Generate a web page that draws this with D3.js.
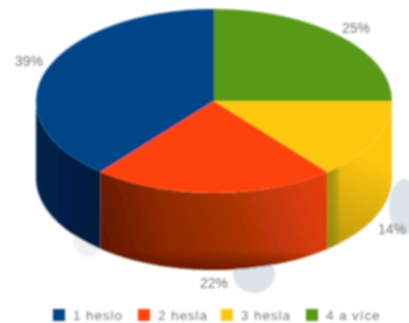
<!DOCTYPE html>
<html><head><meta charset="utf-8">
<script src="https://cdn.jsdelivr.net/npm/d3@7"></script>
<style>html,body{margin:0;padding:0;background:#fff;overflow:hidden}svg{display:block}</style>
</head><body>
<script>
const categories = ["4 a více","3 hesla","2 hesla","1 heslo"];
const values = [25,14,22,39];
const labels = ["25%","14%","22%","39%"];
const legendOrder = ["1 heslo","2 hesla","3 hesla","4 a více"];
const colors = ["#579a16","#fcc70f","#fd4309","#034587"];
const W=409,H=323,cx=214,cy=101,rx=178,ry=92,depth=77;
const svg=d3.select("body").append("svg").attr("width",W).attr("height",H);
const defs=svg.append("defs");
defs.append("filter").attr("id","soft").attr("x","-5%").attr("y","-5%").attr("width","110%").attr("height","110%")
  .append("feGaussianBlur").attr("stdDeviation",1);
const root=svg.append("g").attr("filter","url(#soft)");

function grad(id,x1,y1,x2,y2,stops){
  const g=defs.append("linearGradient").attr("id",id).attr("gradientUnits","userSpaceOnUse")
    .attr("x1",x1).attr("y1",y1).attr("x2",x2).attr("y2",y2);
  stops.forEach(s=>g.append("stop").attr("offset",s[0]).attr("stop-color",s[1]).attr("stop-opacity",s[2]===undefined?1:s[2]));
}

// faint shapes behind the pie
const blobs=[[404,207,15,28,1],[254,274,21,19,1],[88,240,15,17,0.45]];
root.selectAll("ellipse.blob").data(blobs).join("ellipse").attr("class","blob")
  .attr("cx",d=>d[0]).attr("cy",d=>d[1]).attr("rx",d=>d[2]).attr("ry",d=>d[3])
  .attr("fill","#dde2e8").attr("opacity",d=>d[4]);

const pie=d3.pie().sort(null).value(d=>d);
const arcs=pie(values);
const px=a=>cx+rx*Math.sin(a), py=a=>cy-ry*Math.cos(a);

function sidePath(a0,a1){
  const s=Math.max(a0,Math.PI/2), e=Math.min(a1,Math.PI*1.5);
  if(e<=s) return null;
  const ang=d3.range(0,61).map(i=>s+(e-s)*i/60);
  const line=d3.line().x(a=>px(a));
  const top=line.y(a=>py(a))(ang);
  const bot=line.y(a=>py(a)+depth)(ang.slice().reverse());
  return top+"L"+bot.slice(1)+"Z";
}

const yA=arcs[1], rA=arcs[2], bA=arcs[3];
grad("gy",px(yA.endAngle)+6,py(yA.endAngle)+depth,px(yA.startAngle)-14,py(yA.startAngle)+42,
  [[0,"#bc9a0e"],[0.5,"#e3b30e"],[0.85,"#fcc70f"],[1,"#fcc70f"]]);
grad("gyl",px(yA.endAngle),0,px(yA.endAngle)+13,0,[[0,"#7f8a10",0.8],[0.7,"#8f8a10",0.5],[1,"#8f8a10",0]]);
grad("gr",px(rA.endAngle),py(rA.endAngle)+depth+10,px(rA.startAngle),py(rA.startAngle)+2,
  [[0,"#6a1a00"],[0.25,"#8a2804"],[0.55,"#a63206"],[0.85,"#d63b08"],[1,"#e73f08"]]);
grad("grb",0,cy+ry+depth-20,0,cy+ry+depth,[[0,"#3a0800",0],[1,"#3a0800",0.5]]);
grad("grt",px(rA.endAngle),0,px(rA.endAngle)+70,0,[[0,"#3a0a00",0.2],[1,"#3a0a00",0]]);
grad("gb",px(Math.PI*1.5),0,px(bA.startAngle),0,[[0,"#04244c"],[0.5,"#031e46"],[1,"#021a3c"]]);

const wall=(a,fill)=>root.append("path").attr("d",sidePath(a.startAngle,a.endAngle)).attr("fill",fill);
wall(yA,"url(#gy)"); wall(yA,"url(#gyl)");
wall(rA,"url(#gr)"); wall(rA,"url(#grt)"); wall(rA,"url(#grb)");
wall(bA,"url(#gb)");

// top face
const arc=d3.arc().innerRadius(0).outerRadius(rx);
root.append("g").attr("transform",`translate(${cx},${cy}) scale(1,${ry/rx})`)
  .selectAll("path").data(arcs).join("path").attr("d",arc).attr("fill",(d,i)=>colors[i]);

// percentage labels
const labelPos=[[356,33],[392,234],[214,288],[29,66]];
root.selectAll("text.pct").data(labels).join("text").attr("class","pct")
  .attr("x",(d,i)=>labelPos[i][0]).attr("y",(d,i)=>labelPos[i][1])
  .attr("text-anchor","middle").attr("font-family","Liberation Sans, Arial, sans-serif")
  .attr("font-size",14).attr("fill","#747474").text(d=>d);

// legend
const legendX=[53,138,221,306];
const lg=root.selectAll("g.lg").data(legendOrder).join("g").attr("class","lg")
  .attr("transform",(d,i)=>`translate(${legendX[i]},309)`);
lg.append("rect").attr("width",12).attr("height",12)
  .attr("fill",(d,i)=>colors[3-i]);
lg.append("text").attr("x",20).attr("y",11).attr("font-family","Liberation Sans, Arial, sans-serif")
  .attr("font-size",13.5).attr("letter-spacing",0.9).attr("fill","#787878").text(d=>d);
</script>
</body></html>
